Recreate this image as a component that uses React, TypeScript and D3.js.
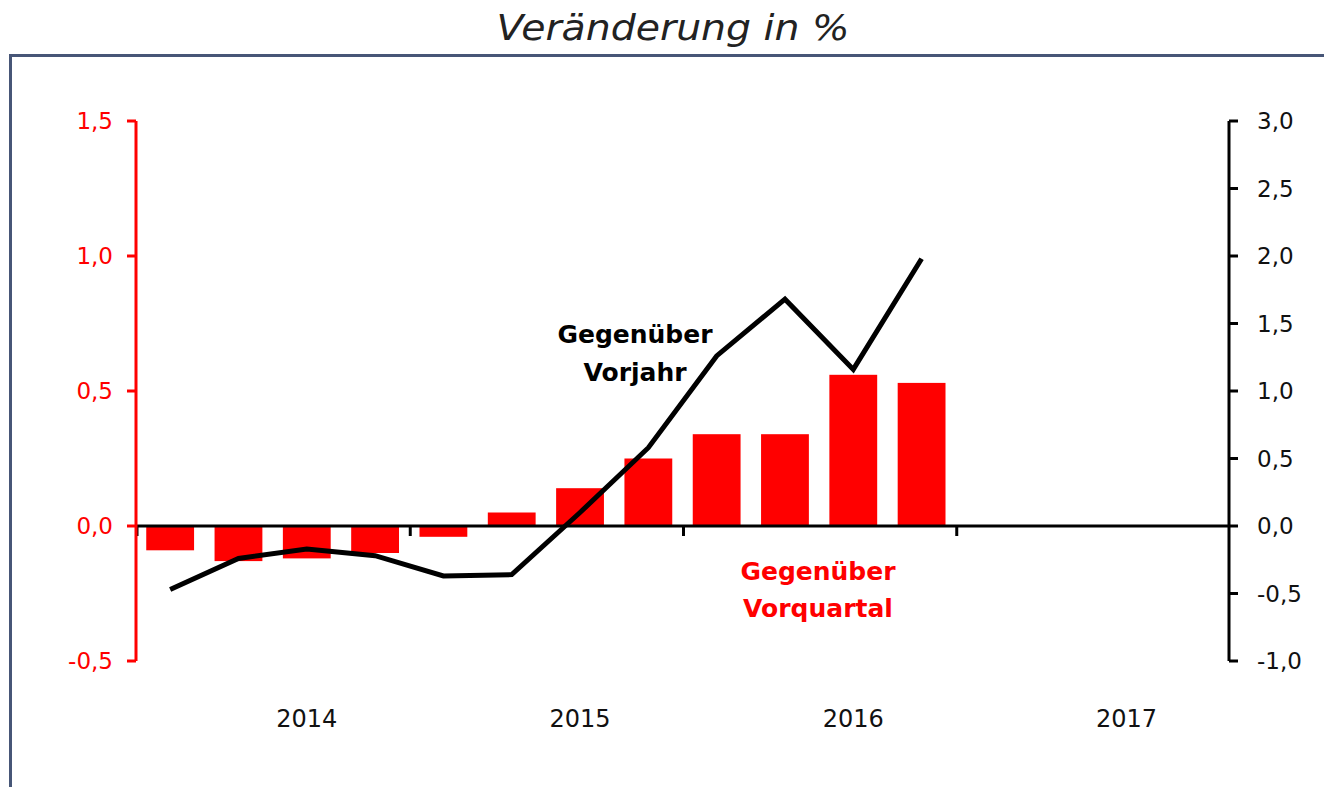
import React from "react";
import * as d3 from "d3";

const quarters = [
  "2014Q1","2014Q2","2014Q3","2014Q4",
  "2015Q1","2015Q2","2015Q3","2015Q4",
  "2016Q1","2016Q2","2016Q3","2016Q4",
  "2017Q1","2017Q2","2017Q3","2017Q4",
];
const years = ["2014", "2015", "2016", "2017"];
const qoq = [-0.09, -0.13, -0.12, -0.1, -0.04, 0.05, 0.14, 0.25, 0.34, 0.34, 0.56, 0.53];
const yoy = [-0.47, -0.24, -0.17, -0.22, -0.37, -0.36, 0.1, 0.58, 1.26, 1.68, 1.16, 1.98];
const leftTicks = [-0.5, 0, 0.5, 1.0, 1.5];
const rightTicks = [-1, -0.5, 0, 0.5, 1, 1.5, 2, 2.5, 3];

const W = 1324, H = 787;
const x0 = 136, x1 = 1229, yTop = 121, yBot = 661;
const FONT = "'DejaVu Sans', sans-serif";
const fmt = (v: number) => d3.format(".1f")(v).replace(".", ",").replace("−", "-");

export default function App() {
  const xYear = d3.scaleBand<string>().domain(years).range([x0, x1]);
  const yL = d3.scaleLinear().domain([-0.5, 1.5]).range([yBot, yTop]);
  const yR = d3.scaleLinear().domain([-1, 3]).range([yBot, yTop]);
  const step = (x1 - x0) / quarters.length;
  const cx = (i: number) => x0 + step * (i + 0.5);
  const line = d3.line<number>().x((_, i) => cx(i)).y((d) => yR(d));
  const bw = step * 0.7;
  const zero = yL(0);

  return (
    <svg width={W} height={H} style={{ position: "absolute", left: 0, top: 0, display: "block" }}>
      <rect width={W} height={H} fill="#fff" />
      <text x={673} y={40} textAnchor="middle" fontFamily={FONT} fontStyle="italic" fontSize={35} fill="#222"
        textLength={353} lengthAdjust="spacingAndGlyphs">
        Veränderung in %
      </text>
      <line x1={9} x2={W} y1={55.5} y2={55.5} stroke="#475677" strokeWidth={3} />
      <line x1={10.5} x2={10.5} y1={55} y2={H} stroke="#475677" strokeWidth={3} />

      {qoq.map((v, i) => (
        <rect key={i} x={cx(i) - bw / 2} width={bw} y={Math.min(yL(v), zero)} height={Math.abs(yL(v) - zero)} fill="#ff0000" />
      ))}

      <line x1={x0} x2={x1} y1={zero} y2={zero} stroke="#000" strokeWidth={3} />
      {years.map((yr) => (
        <line key={yr} x1={xYear(yr)! + 1} x2={xYear(yr)! + 1} y1={zero} y2={zero + 10} stroke="#000" strokeWidth={3} />
      ))}

      <path d={line(yoy) || ""} fill="none" stroke="#000" strokeWidth={5} strokeLinejoin="miter" />

      <line x1={x0} x2={x0} y1={yTop} y2={yBot} stroke="#ff0000" strokeWidth={3} />
      {leftTicks.map((t) => (
        <g key={t}>
          <line x1={x0 - 9} x2={x0} y1={yL(t)} y2={yL(t)} stroke="#ff0000" strokeWidth={3} />
          <text x={113} y={yL(t) + 8} textAnchor="end" fontFamily={FONT} fontSize={23} fill="#ff0000">{fmt(t)}</text>
        </g>
      ))}

      <line x1={x1} x2={x1} y1={yTop} y2={yBot} stroke="#000" strokeWidth={3} />
      {rightTicks.map((t) => (
        <g key={t}>
          <line x1={x1} x2={x1 + 9} y1={yR(t)} y2={yR(t)} stroke="#000" strokeWidth={3} />
          <text x={1257} y={yR(t) + 8} textAnchor="start" fontFamily={FONT} fontSize={23} fill="#111">{fmt(t)}</text>
        </g>
      ))}

      {years.map((yr) => (
        <text key={yr} x={xYear(yr)! + xYear.bandwidth() / 2 + step / 2} y={727} textAnchor="middle" fontFamily={FONT} fontSize={24}
          fill="#111">{yr}</text>
      ))}

      <text x={635} y={343} textAnchor="middle" fontFamily={FONT} fontWeight="bold" fontSize={25} fill="#000">Gegenüber</text>
      <text x={635} y={381} textAnchor="middle" fontFamily={FONT} fontWeight="bold" fontSize={25} fill="#000">Vorjahr</text>
      <text x={818} y={580} textAnchor="middle" fontFamily={FONT} fontWeight="bold" fontSize={25} fill="#ff0000">Gegenüber</text>
      <text x={818} y={617} textAnchor="middle" fontFamily={FONT} fontWeight="bold" fontSize={25} fill="#ff0000">Vorquartal</text>
    </svg>
  );
}
